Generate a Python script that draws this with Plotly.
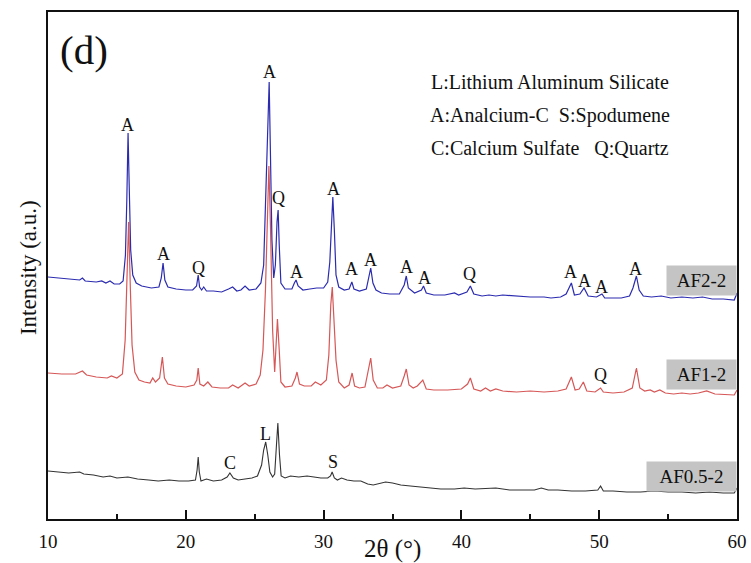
import plotly.graph_objects as go

# XRD patterns (2θ in degrees, intensity in arbitrary units, offset per sample)
two_theta_af22 = [10.0, 11.0, 12.3, 12.5, 12.7, 13.5, 13.9, 14.2, 14.5, 14.8, 15.2, 15.45, 15.62, 15.72, 15.81,
                  15.9, 16.0, 16.15, 16.4, 16.8, 17.5, 18.05, 18.22, 18.35, 18.48, 18.7, 19.3, 20.0, 20.5, 20.78,
                  20.9, 21.0, 21.15, 21.3, 21.5, 22.0, 22.6, 23.1, 23.4, 23.7, 24.0, 24.3, 24.6, 25.1, 25.45,
                  25.65, 25.82, 25.95, 26.05, 26.15, 26.25, 26.38, 26.5, 26.62, 26.7, 26.78, 26.9, 27.2, 27.7,
                  27.88, 28.0, 28.15, 28.5, 29.0, 29.5, 30.0, 30.3, 30.45, 30.58, 30.67, 30.78, 30.9, 31.1, 31.5,
                  31.85, 32.05, 32.2, 32.6, 33.1, 33.28, 33.42, 33.58, 33.8, 34.2, 34.8, 35.5, 35.85, 36.0, 36.15,
                  36.6, 37.1, 37.25, 37.45, 38.0, 38.8, 39.5, 39.8, 40.4, 40.65, 40.9, 41.5, 42.0, 42.5, 43.0,
                  44.0, 45.0, 46.0, 46.5, 47.2, 47.6, 47.98, 48.2, 48.6, 48.9, 49.2, 49.8, 50.2, 50.4, 51.0,
                  51.6, 52.2, 52.45, 52.7, 52.9, 53.2, 53.8, 54.5, 55.2, 56.0, 56.8, 57.5, 58.2, 59.0, 59.8, 60.0]
intensity_af22 = [242, 241, 239, 241, 238, 237, 238, 236, 238, 235, 235, 238, 264, 319, 386,
                  329, 269, 244, 236, 233, 231, 232, 241, 256, 239, 232, 230, 229, 229, 233,
                  244, 232, 229, 232, 228, 228, 227, 230, 232, 228, 229, 233, 229, 230, 236,
                  254, 339, 399, 437, 359, 279, 241, 254, 297, 309, 274, 236, 230, 230,
                  236, 239, 233, 229, 230, 231, 231, 237, 257, 304, 322, 289, 244, 232, 229,
                  230, 237, 230, 228, 230, 241, 251, 236, 229, 226, 225, 225, 234, 243, 231,
                  226, 229, 233, 226, 224, 224, 226, 224, 227, 233, 225, 223, 224, 223, 224,
                  223, 222, 222, 221, 222, 225, 236, 224, 225, 231, 223, 222, 225, 221, 221,
                  221, 223, 231, 243, 229, 223, 222, 223, 221, 222, 221, 222, 220, 220, 219, 226]

two_theta_af12 = [10.0, 11.0, 12.0, 12.5, 12.8, 13.5, 14.3, 14.6, 15.0, 15.4, 15.6, 15.72, 15.85, 15.98, 16.1,
                  16.3, 16.6, 17.0, 17.4, 17.6, 17.8, 18.1, 18.3, 18.45, 18.7, 19.3, 20.0, 20.6, 20.8, 20.9,
                  21.02, 21.3, 21.6, 21.9, 22.5, 23.1, 23.4, 23.8, 24.3, 24.6, 25.1, 25.4, 25.6, 25.78, 25.92,
                  26.03, 26.15, 26.3, 26.45, 26.55, 26.65, 26.78, 26.9, 27.2, 27.7, 27.95, 28.07, 28.25, 28.6,
                  29.1, 29.4, 29.8, 30.2, 30.38, 30.52, 30.63, 30.75, 30.9, 31.1, 31.5, 31.85, 32.07, 32.25,
                  32.6, 33.0, 33.25, 33.42, 33.6, 33.9, 34.3, 34.6, 35.0, 35.6, 35.85, 36.0, 36.2, 36.5, 36.8,
                  37.2, 37.45, 38.0, 39.0, 40.0, 40.45, 40.65, 40.9, 41.4, 41.75, 42.1, 42.5, 43.0, 44.0, 45.0,
                  46.0, 47.0, 47.6, 47.98, 48.25, 48.55, 48.85, 49.1, 49.7, 50.1, 50.3, 51.0, 51.8, 52.4, 52.7,
                  52.95, 53.3, 53.7, 54.0, 54.4, 54.8, 55.4, 56.0, 56.6, 57.2, 57.8, 58.4, 59.2, 59.8, 60.0]
intensity_af12 = [146, 145, 145, 148, 144, 142, 141, 143, 141, 145, 179, 239, 297, 229, 174,
                  147, 139, 137, 136, 141, 137, 141, 162, 141, 135, 133, 132, 134, 139, 151,
                  135, 133, 137, 132, 131, 131, 134, 131, 136, 133, 135, 144, 169, 229, 309,
                  353, 289, 189, 147, 174, 200, 169, 137, 132, 133, 141, 147, 135, 133,
                  133, 137, 134, 139, 164, 214, 232, 204, 159, 137, 131, 134, 146, 133,
                  131, 132, 149, 161, 139, 131, 131, 134, 131, 133, 143, 150, 134, 131, 133,
                  139, 130, 129, 129, 130, 135, 141, 130, 128, 131, 128, 130, 128, 127, 128,
                  127, 128, 130, 142, 129, 130, 137, 128, 127, 131, 127, 126, 127, 131, 151,
                  131, 128, 129, 127, 129, 126, 125, 126, 125, 126, 128, 125, 124, 124, 129]

two_theta_af052 = [10.0, 10.8, 11.5, 12.3, 12.6, 13.3, 14.0, 14.5, 15.0, 15.8, 16.5, 17.3, 18.0, 18.8, 19.5,
                   20.2, 20.7, 20.82, 20.9, 20.98, 21.1, 21.5, 22.0, 22.6, 23.0, 23.2, 23.45, 23.8, 24.3, 24.8,
                   25.2, 25.5, 25.65, 25.8, 25.95, 26.1, 26.3, 26.45, 26.58, 26.68, 26.8, 26.92, 27.2, 27.6,
                   28.2, 28.8, 29.3, 29.8, 30.3, 30.5, 30.62, 30.78, 31.0, 31.3, 31.7, 32.2, 32.7, 33.2, 33.6,
                   34.0, 34.5, 35.0, 35.6, 36.3, 37.0, 37.8, 38.5, 39.5, 40.2, 41.0, 42.0, 42.5, 43.5, 44.5,
                   45.3, 45.8, 46.3, 47.0, 48.0, 49.0, 49.9, 50.1, 50.3, 51.0, 52.0, 53.0, 54.0, 55.0, 56.0,
                   57.0, 58.0, 59.0, 59.8, 60.0]
intensity_af052 = [48, 47, 46, 47, 45, 44, 42, 43, 41, 42, 40, 39, 38, 39, 38,
                   38, 39, 49, 62, 47, 38, 40, 38, 39, 42, 46, 41, 39, 40, 41,
                   43, 54, 69, 77, 64, 47, 42, 45, 74, 96, 64, 43, 41, 43,
                   42, 43, 42, 41, 41, 43, 47, 41, 39, 41, 39, 38, 38, 35, 34,
                   35, 37, 36, 34, 33, 32, 31, 30, 30, 31, 30, 31, 31, 29, 29,
                   29, 31, 29, 29, 28, 28, 29, 33, 28, 28, 27, 27, 28, 27, 27,
                   26, 27, 26, 26, 31]

# Phase markers: (2θ, letter, label height)
markers_af22 = [(15.8, "A", 394), (18.35, "A", 265), (20.9, "Q", 251), (26.05, "A", 447),
                (26.7, "Q", 321), (28.0, "A", 247), (30.7, "A", 330), (32.05, "A", 250),
                (33.4, "A", 259), (36.0, "A", 252), (37.3, "A", 241), (40.6, "Q", 245),
                (47.9, "A", 247), (48.9, "A", 238), (50.2, "A", 232), (52.6, "A", 250)]
markers_af12 = [(50.1, "Q", 144)]
markers_af052 = [(23.2, "C", 56), (25.8, "L", 85), (30.65, "S", 57)]

sample_names = ["AF2-2", "AF1-2", "AF0.5-2"]
sample_colors = ["#2b2bb0", "#d03a3a", "#333333"]

phase_key = ["L:Lithium Aluminum Silicate",
             "A:Analcium-C&nbsp;&nbsp;S:Spodumene",
             "C:Calcium Sulfate&nbsp;&nbsp;&nbsp;Q:Quartz"]

SERIF = "Liberation Serif, Times New Roman, serif"
INK = "#111111"

fig = go.Figure()
fig.add_trace(go.Scatter(x=two_theta_af052, y=intensity_af052, mode="lines",
                         line=dict(color=sample_colors[2], width=1.1), name=sample_names[2]))
fig.add_trace(go.Scatter(x=two_theta_af22, y=intensity_af22, mode="lines",
                         line=dict(color=sample_colors[0], width=1.2), name=sample_names[0]))
fig.add_trace(go.Scatter(x=two_theta_af12, y=intensity_af12, mode="lines", opacity=0.85,
                         line=dict(color=sample_colors[1], width=1.2), name=sample_names[1]))

annotations = []
for group in (markers_af22, markers_af12, markers_af052):
    for xpos, letter, ypos in group:
        annotations.append(dict(x=xpos, y=ypos, text=letter, showarrow=False,
                                xanchor="center", yanchor="middle",
                                font=dict(family=SERIF, size=18, color=INK)))

# Sample name tags on the right edge
tag_levels = [238.5, 145, 42.5]
tag_widths = [65, 65, 85]
for name, level, w in zip(sample_names, tag_levels, tag_widths):
    annotations.append(dict(x=1.0, xref="paper", y=level, text=name, showarrow=False,
                            xanchor="right", yanchor="middle", width=w, height=25,
                            bgcolor="#c4c4c4", borderpad=2,
                            font=dict(family=SERIF, size=19, color=INK)))

# Phase key
for i, line in enumerate(phase_key):
    annotations.append(dict(x=0.7286, xref="paper", y=437 - 33 * i, text=line, showarrow=False,
                            xanchor="center", yanchor="middle",
                            font=dict(family=SERIF, size=20, color=INK)))

# Panel letter
annotations.append(dict(x=0.014, xref="paper", y=0.925, yref="paper", text="(d)", showarrow=False,
                        xanchor="left", yanchor="middle",
                        font=dict(family=SERIF, size=41, color=INK)))

# Axis titles
annotations.append(dict(x=0.4993, xref="paper", y=-0.059, yref="paper", text="2θ (°)", showarrow=False,
                        xanchor="center", yanchor="middle",
                        font=dict(family=SERIF, size=25, color=INK)))
annotations.append(dict(x=-0.029, xref="paper", y=0.495, yref="paper", text="Intensity (a.u.)",
                        showarrow=False, textangle=-90, xanchor="center", yanchor="middle",
                        font=dict(family=SERIF, size=23, color=INK)))

fig.update_layout(
    width=751, height=563,
    margin=dict(l=48, r=14, t=12, b=44),
    paper_bgcolor="white", plot_bgcolor="white",
    showlegend=False,
    annotations=annotations,
    font=dict(family=SERIF, color=INK),
)
fig.update_xaxes(
    range=[10, 60], tickvals=[10, 20, 30, 40, 50, 60], automargin=False,
    ticks="inside", ticklen=9, tickwidth=2, tickcolor=INK, ticklabelstandoff=4,
    minor=dict(tickvals=[15, 25, 35, 45, 55], ticks="inside", ticklen=5, tickwidth=2, tickcolor=INK),
    showline=True, linewidth=2, linecolor=INK, mirror=True, showgrid=False, zeroline=False,
    tickfont=dict(family=SERIF, size=19, color=INK),
)
fig.update_yaxes(
    range=[0, 507], showticklabels=False, ticks="", automargin=False,
    showline=True, linewidth=2, linecolor=INK, mirror=True, showgrid=False, zeroline=False,
)

fig.write_html("out.html")
